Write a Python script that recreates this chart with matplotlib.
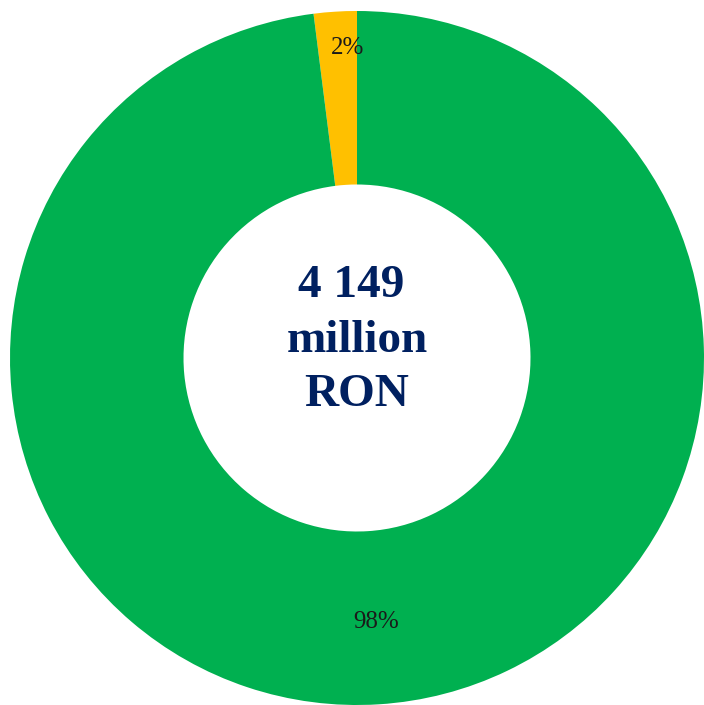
import matplotlib
matplotlib.use('Agg')
import matplotlib.pyplot as plt

labels = ['Other', 'Main']
shares = [2, 98]
colors = ['#FFC000', '#00B050']
total_text = '4 149 \nmillion\nRON'

fig = plt.figure(figsize=(7.04, 7.05), dpi=100)
ax = fig.add_axes([10 / 704, 0 / 705, 694 / 704, 694 / 705])

wedges, texts, autotexts = ax.pie(
    shares, colors=colors, startangle=90, counterclock=True,
    radius=1.0, wedgeprops=dict(width=0.5, edgecolor='none'),
    autopct='%1.0f%%', pctdistance=0.76,
    textprops=dict(family='Liberation Serif', fontsize=18, color='#1a1a1a'))

# 2% label sits further out, near the outer edge
autotexts[0].set_position((-0.026, 0.893))
autotexts[1].set_position((0.055, -0.76))

ax.text(0, 0.05, total_text, ha='center', va='center',
        family='Liberation Serif', fontweight='bold', fontsize=34,
        color='#002060', linespacing=1.4)

ax.set_xlim(-1, 1)
ax.set_ylim(-1, 1)
ax.set_aspect('equal')
ax.axis('off')
fig.savefig('out.png', dpi=100)
